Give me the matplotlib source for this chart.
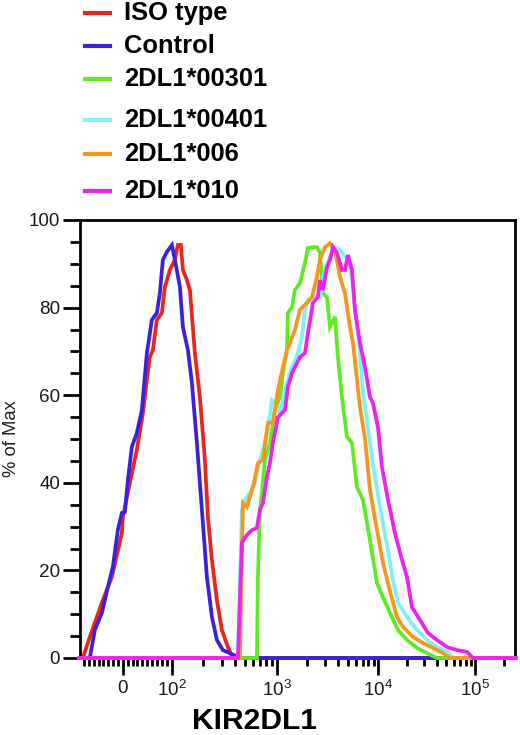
import numpy as np
import matplotlib
matplotlib.use("Agg")
import matplotlib.pyplot as plt
from matplotlib.lines import Line2D
from matplotlib.ticker import FixedLocator, NullFormatter

plt.rcParams['font.family'] = ['Liberation Sans', 'DejaVu Sans']
plt.rcParams['mathtext.fontset'] = 'custom'
plt.rcParams['mathtext.rm'] = 'Liberation Sans'
plt.rcParams['mathtext.it'] = 'Liberation Sans:italic'
plt.rcParams['mathtext.bf'] = 'Liberation Sans:bold'

# ---------------- data (fluorescence intensity, % of max) ----------------
labels = ["ISO type", "Control", "2DL1*00301", "2DL1*00401", "2DL1*006", "2DL1*010"]
colors = ["#e8261c", "#3a22dc", "#5fea22", "#7ff0f6", "#f5961e", "#ee22ee"]

iso_x = [-89, -82.1, -67.8, -41.1, -22.6, -2.1, 0, 14.4, 28.7, 41.1, 49.3, 55.4, 61.6,
         69.8, 80.1, 86.2, 96.5, 107.5, 114.8, 122.6, 128.1, 139.9, 149.4, 166.7,
         186.0, 207.6, 221.7, 242.0, 270.0, 301.3, 343.8, 383.6, 262144]
iso_y = [0, 0, 4.8, 13.2, 18.5, 28.5, 32.2, 40.0, 47.5, 55.9, 63.5, 68.7, 70.3,
         77.2, 78.8, 84.7, 88.6, 90.9, 94.3, 94.3, 88.6, 86.3, 84.0, 69.6,
         59.6, 45.2, 32.2, 22.4, 13.2, 6.4, 2.5, 0, 0]

ctrl_x = [-89, -67.8, -57.5, -43.1, -30.8, -20.5, -10.3, -2.1, 4.1, 10.3, 18.5, 28.7,
          39.0, 49.3, 59.5, 69.8, 76.0, 82.1, 90.3, 100.7, 107.5, 120.0, 128.1, 143.0,
          156.1, 174.2, 194.4, 216.9, 242.0, 270.0, 308.0, 359.2, 447.2, 262144]
ctrl_y = [0, 0, 6.4, 10.3, 16.2, 20.8, 29.2, 33.1, 33.3, 40.6, 48.2, 51.4,
          56.6, 69.6, 77.2, 78.8, 83.3, 90.9, 92.7, 94.3, 90.9, 84.7, 75.6, 70.3,
          62.8, 49.1, 33.8, 18.5, 9.4, 4.1, 1.8, 1.1, 0, 0]

a00301_x = [-89, 649.2, 663.6, 693.4, 724.4, 773.7, 863.6, 963.4, 1078, 1153, 1263, 1292,
            1415, 1514, 1696, 1899, 2033, 2278, 2493, 2669, 2856, 3127, 3346, 3748,
            4012, 4392, 4918, 5510, 6171, 7070, 8285, 9710, 11180, 13210, 15990, 19810,
            25130, 31890, 40460, 262144]
a00301_y = [0, 0, 18.5, 33.8, 37.7, 45.2, 49.1, 56.6, 59.6, 65.1, 70.3, 78.8,
            80.1, 84.0, 85.6, 90.2, 93.6, 93.8, 93.8, 92.5, 83.3, 82.4, 75.6, 77.9,
            68.7, 59.6, 50.5, 49.1, 39.0, 36.1, 26.9, 17.1, 13.9, 10.3, 6.4, 4.1,
            2.3, 1.1, 0, 0]

a00401_x = [-89, 428.0, 467.2, 499.1, 556.8, 621.3, 693.4, 740.5, 826.3, 902.3, 963.4,
            1078, 1207, 1415, 1620, 1774, 1899, 2033, 2278, 2669, 2856, 3346, 3748,
            4198, 4700, 5032, 5510, 5897, 6605, 7070, 7741, 8867, 10410, 12300, 14190,
            15990, 19810, 25130, 31890, 40460, 51340, 59210, 262144]
a00401_y = [0, 0, 33.8, 36.1, 37.7, 40.0, 45.2, 47.5, 52.1, 58.9, 58.2,
            55.9, 61.2, 66.4, 69.6, 73.3, 79.5, 81.7, 82.4, 82.4, 87.0, 91.6, 93.8,
            93.2, 91.6, 91.6, 87.0, 79.5, 70.3, 60.5, 54.3, 44.1, 34.5, 25.8, 17.8,
            12.6, 9.4, 6.4, 4.1, 2.5, 1.4, 0, 0]

a006_x = [-89, 447.2, 477.5, 521.4, 594.7, 663.6, 740.5, 826.3, 922.2, 1030, 1153, 1263,
          1352, 1514, 1696, 1987, 2226, 2493, 2669, 2988, 3346, 3748, 4198, 4700,
          5266, 5636, 6605, 7397, 8285, 9710, 11180, 13210, 15610, 18000, 22850,
          28990, 36790, 46680, 55130, 262144]
a006_y = [0, 0, 35.4, 34.5, 39.0, 44.5, 45.2, 53.7, 53.7, 61.2, 66.4, 70.3,
          71.9, 74.9, 79.5, 81.1, 82.4, 87.0, 90.9, 93.8, 94.7, 93.2, 87.0, 83.3,
          75.6, 71.9, 57.3, 50.2, 38.4, 29.2, 21.7, 15.3, 9.4, 7.1, 4.8,
          3.4, 2.3, 1.1, 0, 0]

a010_x = [-89, 428.0, 467.2, 521.4, 581.8, 649.2, 693.4, 740.5, 808.3, 863.6, 922.2,
          1030, 1207, 1292, 1415, 1696, 1899, 2033, 2278, 2550, 2669, 2856, 3127,
          3346, 3582, 3922, 4392, 4700, 5032, 5510, 5897, 6605, 7397, 8285, 8867,
          9931, 10920, 12600, 14880, 17580, 19810, 22310, 26990, 32660, 40460,
          51340, 65150, 82660, 95350, 262144]
a010_y = [0, 0, 26.3, 28.1, 29.2, 29.7, 33.8, 35.4, 41.3, 44.5, 49.1,
          55.0, 56.6, 61.9, 65.1, 68.7, 69.6, 74.2, 81.1, 82.4, 86.3, 84.0, 89.3,
          90.9, 93.8, 92.5, 88.6, 88.6, 92.0, 88.6, 79.5, 71.9, 66.4, 59.6, 58.2,
          52.7, 43.6, 36.1, 28.5, 22.4, 18.5, 11.6, 8.7, 5.7, 4.1,
          2.5, 1.8, 1.4, 0, 0]

series_x = [iso_x, ctrl_x, a00301_x, a00401_x, a006_x, a010_x]
series_y = [iso_y, ctrl_y, a00301_y, a00401_y, a006_y, a010_y]
draw_order = [0, 2, 4, 3, 1, 5]

major_ticks = [0, 100, 1000, 10000, 100000]
major_labels = ["0", r"$\mathregular{10^{2}}$", r"$\mathregular{10^{3}}$",
                r"$\mathregular{10^{4}}$", r"$\mathregular{10^{5}}$"]

# ---------------- biexponential-like axis scale ----------------
LIN_W = 48.7            # width of 0..100 linear part (scale units)
DEC = [2, 3, 4, 5, 6]
DEC_U = [48.7, 153.7, 255.3, 352.0, 448.7]

def fwd(v):
    v = np.asarray(v, dtype=float)
    lin = v * (LIN_W / 100.0)
    lg = np.interp(np.log10(np.maximum(v, 100.0)), DEC, DEC_U)
    return np.where(v < 100, lin, lg)

def inv(u):
    u = np.asarray(u, dtype=float)
    lin = u / (LIN_W / 100.0)
    lg = 10 ** np.interp(u, DEC_U, DEC)
    return np.where(u < LIN_W, lin, lg)

fig = plt.figure(figsize=(5.2, 7.35), dpi=100)
W, H = 520.0, 735.0
ax = fig.add_axes([79.5 / W, (H - 658) / H, (515 - 79.5) / W, (658 - 220) / H])
ax.set_xscale('function', functions=(fwd, inv))

for i in draw_order:
    ax.plot(series_x[i], series_y[i], color=colors[i], lw=2.7, zorder=3 + i * 0.1,
            clip_on=False, solid_joinstyle='miter')

ax.set_xlim(-89, 259000)
ax.set_ylim(0, 100)

# ticks
minor_x = [v for v in range(-80, 100, 10) if v != 0]
for d in [100, 1000, 10000, 100000]:
    minor_x += [m * d for m in range(2, 10) if m * d < 259000]
ax.xaxis.set_major_locator(FixedLocator(major_ticks))
ax.set_xticklabels(major_labels)
ax.xaxis.set_minor_locator(FixedLocator(minor_x))
ax.xaxis.set_minor_formatter(NullFormatter())
ax.set_yticks([0, 20, 40, 60, 80, 100])
ax.yaxis.set_minor_locator(FixedLocator(list(range(5, 100, 5))))

ax.tick_params(axis='both', which='major', length=12, width=2, labelsize=13.6,
               color='black', labelcolor='#1a1a1a')
ax.tick_params(axis='both', which='minor', length=7, width=2, color='black')
ax.tick_params(axis='x', which='minor', length=6)
ax.tick_params(axis='x', which='major', pad=4)
ax.tick_params(axis='y', which='major', pad=2)
for s in ax.spines.values():
    s.set_linewidth(2)
    s.set_color('black')

ax.set_ylabel("% of Max", fontsize=13.3, color='#222222', labelpad=6)
ax.set_xlabel("KIR2DL1", fontsize=21.6, fontweight='bold', va='center')
ax.xaxis.set_label_coords((254.5 - 79.5) / (515 - 79.5), (658 - 721) / (658 - 220))

# legend (manual, above the axes)
row_y = [13, 46, 79, 120, 154, 191]
for lab, col, ry in zip(labels, colors, row_y):
    fig.add_artist(Line2D([85 / W, 110 / W], [1 - ry / H, 1 - ry / H], color=col, lw=3))
    fig.text(124 / W, 1 - ry / H, lab, fontsize=18.4, fontweight='bold',
             va='center', ha='left', color='black')

fig.savefig("out.png", dpi=100)
